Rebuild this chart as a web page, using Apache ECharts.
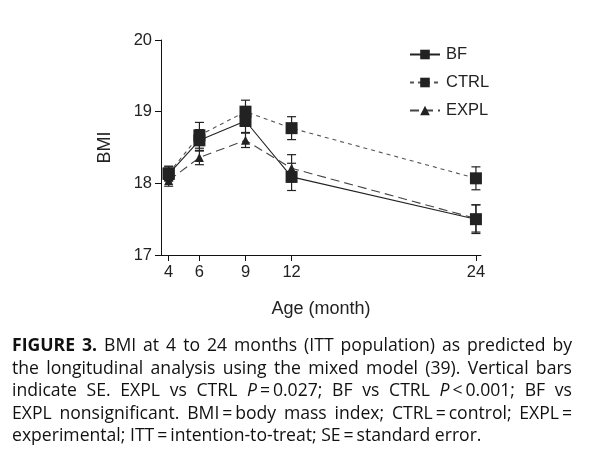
<!DOCTYPE html>
<html>
<head>
<meta charset="utf-8">
<script src="https://cdn.jsdelivr.net/npm/echarts@6/dist/echarts.min.js"></script>
<style>
html,body{margin:0;padding:0;background:#fff;}
#chart{position:absolute;left:0;top:0;width:595px;height:462px;}
#cap{position:absolute;left:12px;top:333px;width:560px;font-family:"Open Sans",sans-serif;font-size:17.6px;line-height:22.5px;color:#111;}
#cap div{text-align:justify;text-align-last:justify;white-space:nowrap;}
#cap div.last{text-align-last:left;}
</style>
</head>
<body>
<div id="chart"></div>
<div id="cap">
<div><b>FIGURE 3.</b> BMI at 4 to 24 months (ITT population) as predicted by</div>
<div>the longitudinal analysis using the mixed model (39). Vertical bars</div>
<div>indicate SE. EXPL vs CTRL <i>P</i>&#8201;=&#8201;0.027; BF vs CTRL <i>P</i>&#8201;&lt;&#8201;0.001; BF vs</div>
<div>EXPL nonsignificant. BMI&#8201;=&#8201;body mass index; CTRL&#8201;=&#8201;control; EXPL&#8201;=</div>
<div class="last">experimental; ITT&#8201;=&#8201;intention-to-treat; SE&#8201;=&#8201;standard error.</div>
</div>
<script>
var ages = [4, 6, 9, 12, 24];
var bfBMI   = [18.13, 18.60, 18.87, 18.09, 17.50];
var ctrlBMI = [18.14, 18.67, 19.00, 18.77, 18.07];
var explBMI = [18.04, 18.36, 18.60, 18.21, 17.51];
var bfSE   = [0.10, 0.15, 0.16, 0.19, 0.20];
var ctrlSE = [0.10, 0.18, 0.16, 0.16, 0.16];
var explSE = [0.08, 0.10, 0.10, 0.19, 0.19];
var xTicks = [4, 6, 9, 12, 24];
var yTicks = [17, 18, 19, 20];

var ink = '#222';
var fam = 'Liberation Sans, Arial, sans-serif';
function pts(vals){ return ages.map(function(a,i){ return [a, vals[i]]; }); }
function bars(vals, se){ return ages.map(function(a,i){ return [a, vals[i]-se[i], vals[i]+se[i]]; }); }
function errSeries(vals, se){
  return {
    type:'custom', silent:true, z:1,
    data: bars(vals, se),
    renderItem: function(params, api){
      var lo = api.coord([api.value(0), api.value(1)]);
      var hi = api.coord([api.value(0), api.value(2)]);
      var w = 4.5;
      var st = {stroke:ink, lineWidth:1.2, fill:null};
      return {type:'group', children:[
        {type:'line', shape:{x1:lo[0],y1:lo[1],x2:hi[0],y2:hi[1]}, style:st},
        {type:'line', shape:{x1:lo[0]-w,y1:lo[1],x2:lo[0]+w,y2:lo[1]}, style:st},
        {type:'line', shape:{x1:hi[0]-w,y1:hi[1],x2:hi[0]+w,y2:hi[1]}, style:st}
      ]};
    }
  };
}

var chart = echarts.init(document.getElementById('chart'), null, {renderer:'canvas'});
chart.setOption({
  animation:false,
  backgroundColor:'#fff',
  grid:{left:161, right:114, top:40, bottom:207, containLabel:false},
  legend:{
    orient:'vertical', left:404, top:41, itemGap:11, itemWidth:30, itemHeight:12,
    textStyle:{fontFamily:fam, fontSize:16.5, color:'#222', padding:[0,0,0,1]},
    data:['BF','CTRL','EXPL']
  },
  xAxis:{
    type:'value', min:3.5, max:24.33,
    name:'Age (month)', nameLocation:'middle', nameGap:45,
    nameTextStyle:{fontFamily:fam, fontSize:18, color:'#222'},
    axisLine:{lineStyle:{color:'#111', width:1}},
    axisTick:{customValues:xTicks, length:6, lineStyle:{color:'#111'}},
    axisLabel:{customValues:xTicks, margin:9, fontFamily:fam, fontSize:16.5, color:'#222'},
    splitLine:{show:false}
  },
  yAxis:{
    type:'value', min:17, max:20, interval:1,
    name:'BMI', nameLocation:'middle', nameGap:47, nameRotate:90,
    nameTextStyle:{fontFamily:fam, fontSize:18, color:'#222'},
    axisLine:{show:true, lineStyle:{color:'#111', width:1}},
    axisTick:{show:true, length:6, lineStyle:{color:'#111'}},
    axisLabel:{margin:9, fontFamily:fam, fontSize:16.5, color:'#222'},
    splitLine:{show:false}
  },
  series:[
    errSeries(bfBMI, bfSE),
    errSeries(ctrlBMI, ctrlSE),
    errSeries(explBMI, explSE),
    {name:'BF', type:'line', data:pts(bfBMI), symbol:'rect', symbolSize:12, z:3,
     lineStyle:{color:'#222', width:1.1, type:'solid'}, itemStyle:{color:ink}},
    {name:'CTRL', type:'line', data:pts(ctrlBMI), symbol:'rect', symbolSize:12, z:3,
     lineStyle:{color:'#555', width:1.1, type:[4,4]}, itemStyle:{color:ink}},
    {name:'EXPL', type:'line', data:pts(explBMI), symbol:'triangle', symbolSize:9, z:3,
     lineStyle:{color:'#444', width:1.1, type:[9,5]}, itemStyle:{color:ink}}
  ]
});
</script>
</body>
</html>
